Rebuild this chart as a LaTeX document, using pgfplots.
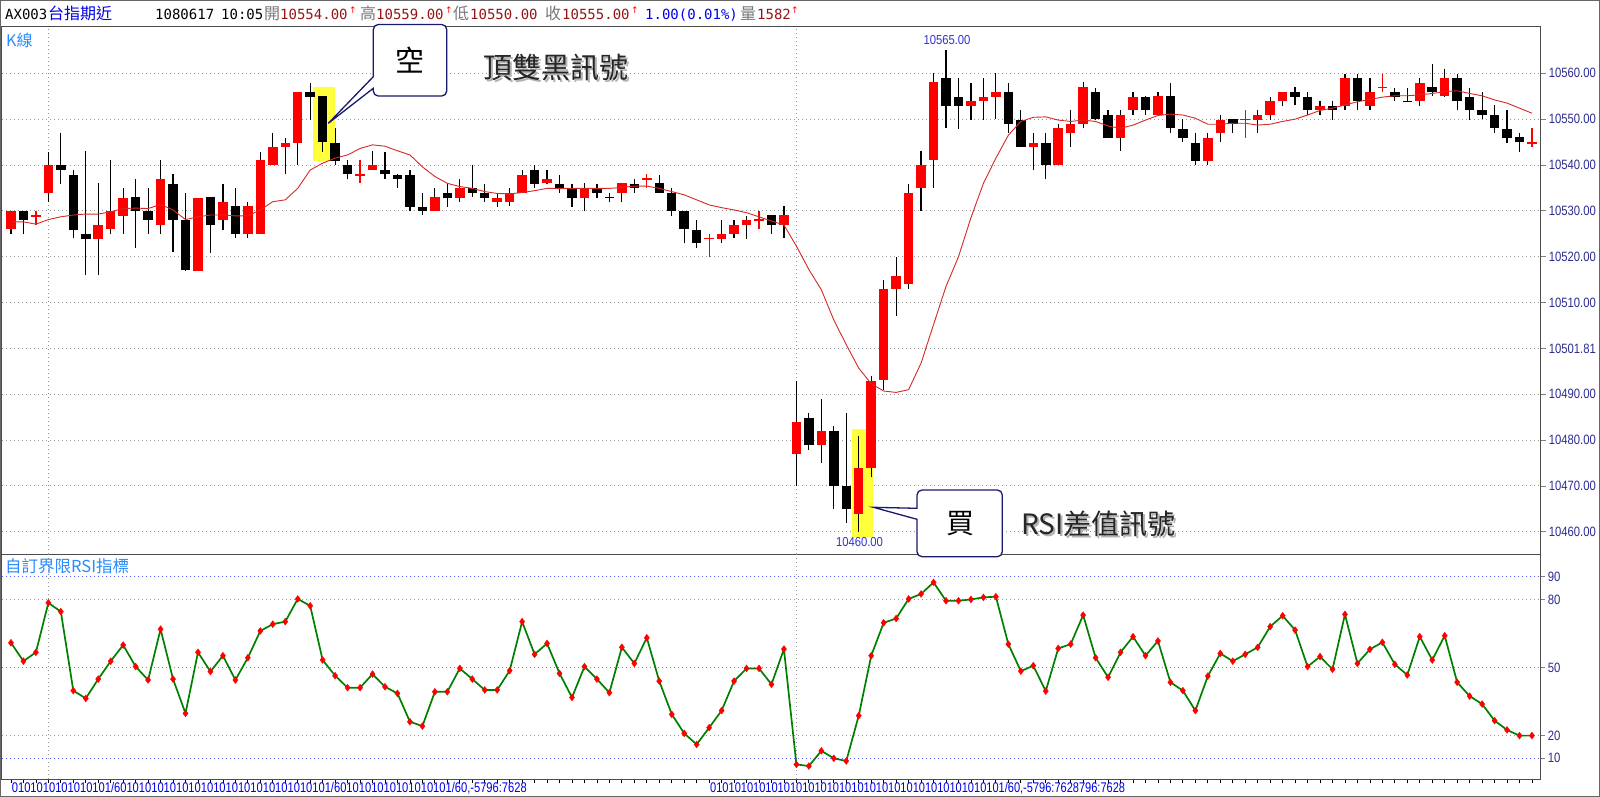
\documentclass[border=0pt]{standalone}
\usepackage{pgfplots}
\pgfplotsset{compat=1.18}
\usepackage{pgfplotstable}
\usepackage{graphicx}
\usepackage{fontspec}
\setmainfont{Liberation Sans}
\newfontfamily\cjk{Noto Sans CJK TC}
\newfontfamily\mono{DejaVu Sans Mono}
\newfontfamily\dvs{DejaVu Sans}
\newfontfamily\lsans{Liberation Sans}

\definecolor{cred}{RGB}{255,0,0}
\definecolor{navy}{RGB}{45,45,145}
\definecolor{lblue}{RGB}{40,140,255}
\definecolor{hdred}{RGB}{150,20,20}
\definecolor{hdgray}{RGB}{120,120,120}
\definecolor{hdblue}{RGB}{0,0,230}
\definecolor{gridgray}{RGB}{150,150,150}
\definecolor{hiyel}{RGB}{255,255,60}
\definecolor{rsigreen}{RGB}{0,128,0}
\definecolor{boxnavy}{RGB}{25,25,110}
\definecolor{lblblue}{RGB}{50,50,210}
\definecolor{malred}{RGB}{215,40,40}
\definecolor{gblue}{RGB}{90,90,255}
\definecolor{gred}{RGB}{255,90,90}

\newcommand{\pl}[1]{\resizebox{47pt}{\height}{#1}}
\newcommand{\rl}[1]{\scalebox{0.84}[1]{#1}}

% red (up) candles
\pgfplotstableread{
i O H L C
0 10526 10530 10525 10530
3 10534 10543 10532 10540
7 10524 10536 10516 10527
8 10526 10541 10525 10530
9 10529 10535 10525 10533
12 10527 10541 10525 10537
15 10517 10533 10517 10533
17 10528 10536 10526 10532
19 10525 10532 10524 10531
20 10525 10543 10525 10541
21 10540 10547 10540 10544
22 10544 10546 10538 10545
23 10545 10556 10540 10556
29 10539 10543 10539 10540
34 10530 10535 10530 10533
36 10533 10537 10532 10535
39 10532 10534 10531 10533
40 10532 10535 10531 10534
41 10534 10539 10534 10538
43 10536 10539 10536 10537
46 10533 10536 10530 10535
49 10534 10536 10532 10536
57 10524 10528 10523 10525
58 10525 10528 10524 10527
59 10527 10529 10524 10528
62 10527 10531 10524 10529
63 10477 10493 10470 10484
65 10479 10489 10475 10482
68 10464 10481 10460 10474
69 10474 10494 10472 10493
70 10493 10515 10491 10513
71 10513 10520 10507 10516
72 10514 10536 10513 10534
73 10535 10543 10530 10540
74 10541 10560 10535 10558
77 10553 10558 10550 10554
78 10554 10559 10550 10555
79 10555 10560 10550 10556
82 10544 10547 10539 10545
84 10540 10549 10540 10548
85 10547 10552 10544 10549
86 10549 10558 10548 10557
89 10546 10552 10543 10551
90 10552 10556 10551 10555
92 10551 10556 10551 10555
96 10541 10547 10540 10546
97 10547 10551 10545 10550
100 10550 10552 10547 10551
101 10551 10555 10550 10554
102 10554 10556 10553 10556
105 10552 10554 10551 10553
107 10553 10560 10552 10559
109 10553 10559 10552 10556
113 10554 10559 10553 10558
115 10555 10561 10555 10559
}\tblR

% red crosses (open = close)
\pgfplotstableread{
i O H L C
2 10529 10530 10527 10529
28 10538 10541 10536 10538
51 10537 10538 10535 10537
56 10524 10525 10520 10524
60 10528 10530 10526 10528
99 10550 10552 10546 10550
110 10557 10560 10556 10557
122 10545 10548 10544 10545
}\tblRD

% black (down) candles
\pgfplotstableread{
i O H L C
1 10530 10530 10525 10528
4 10540 10547 10536 10539
5 10538 10539 10524 10526
6 10525 10543 10516 10524
10 10533 10537 10522 10530
11 10530 10535 10525 10528
13 10536 10538 10521 10528
14 10528 10534 10517 10517
16 10533 10533 10521 10527
18 10531 10535 10524 10525
24 10556 10558 10550 10555
25 10555 10555 10543 10545
26 10545 10548 10540 10541
27 10540 10541 10537 10538
30 10539 10543 10537 10538
31 10538 10538 10535 10537
32 10538 10539 10530 10531
33 10531 10534 10529 10530
35 10534 10536 10531 10533
37 10535 10540 10533 10534
38 10534 10536 10532 10533
42 10539 10540 10535 10536
44 10536 10538 10534 10535
45 10535 10536 10531 10533
47 10535 10536 10533 10534
48 10533 10534 10532 10533
50 10536 10537 10534 10535
52 10536 10538 10534 10534
53 10534 10535 10529 10530
54 10530 10530 10523 10526
55 10526 10528 10522 10523
61 10529 10529 10525 10527
64 10485 10486 10478 10479
66 10482 10483 10465 10470
67 10470 10486 10462 10465
75 10559 10565 10548 10553
76 10555 10559 10548 10553
80 10556 10558 10547 10549
81 10550 10552 10544 10544
83 10545 10547 10537 10540
87 10556 10557 10550 10550
88 10551 10552 10546 10546
91 10555 10555 10551 10552
93 10555 10558 10547 10548
94 10548 10550 10545 10546
95 10545 10547 10540 10541
98 10550 10550 10547 10549
103 10556 10557 10553 10555
104 10555 10556 10551 10552
106 10553 10554 10550 10552
108 10559 10560 10552 10554
111 10556 10557 10554 10555
112 10554 10557 10554 10554
114 10557 10562 10555 10556
116 10559 10560 10552 10554
117 10555 10557 10550 10552
118 10552 10556 10550 10551
119 10551 10553 10547 10548
120 10548 10552 10545 10546
121 10546 10547 10543 10545
}\tblB

% moving average
\pgfplotstableread{
i ma
0 10527.6
1 10527.6
2 10527.1
3 10528.1
4 10528.7
5 10529.1
6 10529.3
7 10529.3
8 10529.8
9 10530.5
10 10530.6
11 10530.5
12 10531.4
13 10530.2
14 10528.1
15 10528.7
16 10529.1
17 10529.1
18 10528.9
19 10528.9
20 10530.2
21 10532.0
22 10532.4
23 10534.9
24 10538.9
25 10540.4
26 10541.5
27 10542.2
28 10543.6
29 10544.4
30 10544.1
31 10543.1
32 10542.2
33 10539.6
34 10537.5
35 10536.0
36 10535.3
37 10534.9
38 10534.2
39 10533.8
40 10533.7
41 10534.0
42 10534.4
43 10534.9
44 10534.9
45 10534.9
46 10534.9
47 10534.9
48 10534.9
49 10535.1
50 10535.4
51 10535.4
52 10534.9
53 10534.2
54 10533.5
55 10532.4
56 10531.3
57 10530.7
58 10530.2
59 10529.6
60 10528.7
61 10527.8
62 10526.9
63 10522.3
64 10517.2
65 10512.8
66 10506.2
67 10500.8
68 10495.7
69 10492.3
70 10490.7
71 10490.4
72 10491.0
73 10496.8
74 10505.2
75 10513.5
76 10520.0
77 10528.5
78 10536.0
79 10541.5
80 10546.5
81 10549.5
82 10550.4
83 10550.5
84 10549.8
85 10549.5
86 10549.8
87 10549.5
88 10548.5
89 10548.0
90 10548.7
91 10549.8
92 10550.8
93 10551.1
94 10550.9
95 10550.2
96 10548.9
97 10548.9
98 10549.1
99 10549.1
100 10548.7
101 10548.9
102 10549.5
103 10550.0
104 10550.9
105 10551.9
106 10552.4
107 10553.1
108 10553.8
109 10554.3
110 10554.8
111 10555.1
112 10555.1
113 10555.3
114 10555.6
115 10556.0
116 10556.2
117 10555.6
118 10555.1
119 10554.2
120 10553.5
121 10552.4
122 10551.3
}\tblMA

% RSI
\pgfplotstableread{
i r
0 60.9
1 52.8
2 56.7
3 78.5
4 74.6
5 39.8
6 36.4
7 44.9
8 52.8
9 59.9
10 50.4
11 44.5
12 66.9
13 44.9
14 29.8
15 56.7
16 48.2
17 55.2
18 44.5
19 54.3
20 66.1
21 69.1
22 70.2
23 80.2
24 77.2
25 53.3
26 46.4
27 41.1
28 41.1
29 47.1
30 41.5
31 38.6
32 26.1
33 24.2
34 39.3
35 39.3
36 49.6
37 44.9
38 40.1
39 40.1
40 48.6
41 70.2
42 55.8
43 60.6
44 47.4
45 36.8
46 50.4
47 44.9
48 38.9
49 58.9
50 51.8
51 63.1
52 44.0
53 29.4
54 21.0
55 16.1
56 23.5
57 31.0
58 44.0
59 49.6
60 49.6
61 42.6
62 58.1
63 7.3
64 6.6
65 13.3
66 10.0
67 8.8
68 28.8
69 55.2
70 69.7
71 71.6
72 80.2
73 82.4
74 87.5
75 79.4
76 79.4
77 80.0
78 80.9
79 81.2
80 60.3
81 48.4
82 50.8
83 39.6
84 58.4
85 60.3
86 73.1
87 54.3
88 45.7
89 56.7
90 63.6
91 55.2
92 61.7
93 43.5
94 39.8
95 31.0
96 46.2
97 56.2
98 52.8
99 55.8
100 58.9
101 68.0
102 72.8
103 66.5
104 50.4
105 54.8
106 49.2
107 73.4
108 51.8
109 58.0
110 61.1
111 51.4
112 46.7
113 63.6
114 53.3
115 64.0
116 43.5
117 37.4
118 33.9
119 26.6
120 22.5
121 20.0
122 20.0
}\tblRSI

\pgfplotsset{
  wick/.style={draw=none, mark=none, forget plot,
    error bars/.cd, y dir=both, y explicit, error mark=none,
    error bar style={draw=#1, line width=1.2pt}},
  body/.style={draw=none, mark=none, forget plot,
    error bars/.cd, y dir=both, y explicit, error mark=none,
    error bar style={draw=#1, line width=9.5pt}},
}

\begin{document}
\begin{tikzpicture}
\useasboundingbox (0pt,0pt) rectangle (1600pt,-797pt);
\fill[white] (0pt,0pt) rectangle (1600pt,-797pt);

% ---------------- price panel ----------------
\begin{axis}[
  at={(2pt,-26.5pt)}, anchor=north west,
  scale only axis, width=1538.7pt, height=527.8pt,
  xmin=-0.72, xmax=122.7, ymin=10455.09, ymax=10570.21,
  scaled y ticks=false, scaled x ticks=false,
  axis line style={draw=black!70, line width=1pt},
  xtick={3,63}, xticklabels={}, xmajorgrids,
  ytick={10460,10470,10480,10490,10500,10510,10520,10530,10540,10550,10560},
  ymajorgrids,
  ytick pos=right, tick align=outside, major tick length=5pt,
  xtick style={draw=none},
  ytick style={draw=gray, line width=0.8pt},
  grid style={draw=gridgray, line width=1pt, dash pattern=on 1pt off 3pt},
  yticklabels={\pl{10460.00},\pl{10470.00},\pl{10480.00},\pl{10490.00},\pl{10501.81},\pl{10510.00},\pl{10520.00},\pl{10530.00},\pl{10540.00},\pl{10550.00},\pl{10560.00}},
  yticklabel style={font=\lsans\fontsize{13.5}{13.5}\selectfont, text=navy, anchor=west, inner sep=0pt, xshift=3pt},
]
\fill[hiyel] (axis cs:24.24,10540.9) rectangle (axis cs:25.98,10557.1);
\fill[hiyel] (axis cs:67.42,10458.9) rectangle (axis cs:69.15,10482.4);

% wicks
\addplot[wick=black] table[x=i, y expr={(\thisrow{H}+\thisrow{L})/2}, y error expr={(\thisrow{H}-\thisrow{L})/2}] {\tblR};
\addplot[wick=black] table[x=i, y expr={(\thisrow{H}+\thisrow{L})/2}, y error expr={(\thisrow{H}-\thisrow{L})/2}] {\tblB};
\addplot[wick=cred] table[x=i, y expr={(\thisrow{H}+\thisrow{L})/2}, y error expr={(\thisrow{H}-\thisrow{L})/2}] {\tblRD};
% bodies
\addplot[body=cred] table[x=i, y expr={(\thisrow{O}+\thisrow{C})/2}, y error expr={max(abs(\thisrow{C}-\thisrow{O})/2,0.12)}] {\tblR};
\addplot[body=cred] table[x=i, y expr={(\thisrow{O}+\thisrow{C})/2}, y error expr={max(abs(\thisrow{C}-\thisrow{O})/2,0.12)}] {\tblRD};
\addplot[body=black] table[x=i, y expr={(\thisrow{O}+\thisrow{C})/2}, y error expr={max(abs(\thisrow{C}-\thisrow{O})/2,0.12)}] {\tblB};
% moving average
\addplot[malred, line width=0.9pt, mark=none] table[x=i, y=ma] {\tblMA};
\end{axis}

% ---------------- RSI panel ----------------
\begin{axis}[
  at={(2pt,-554.3pt)}, anchor=north west,
  scale only axis, width=1538.7pt, height=225pt,
  xmin=-0.72, xmax=122.7, ymin=0.75, ymax=99.87,
  scaled y ticks=false, scaled x ticks=false,
  axis line style={draw=black!70, line width=1pt},
  xtick={0,...,122}, xticklabels={}, xtick pos=bottom,
  ytick={10,20,50,80,90}, ytick pos=right, tick align=outside, major tick length=4pt,
  xtick style={draw=black, line width=0.8pt},
  ytick style={draw=gray, line width=0.8pt},
  yticklabels={\rl{10},\rl{20},\rl{50},\rl{80},\rl{90}},
  yticklabel style={font=\lsans\fontsize{13.5}{13.5}\selectfont, text=navy, anchor=west, inner sep=0pt, xshift=3pt},
]
\draw[gridgray, line width=1pt, dash pattern=on 1pt off 3pt] (axis cs:3,0.75) -- (axis cs:3,99.87);
\draw[gridgray, line width=1pt, dash pattern=on 1pt off 3pt] (axis cs:63,0.75) -- (axis cs:63,99.87);
\draw[gblue, line width=1pt, dash pattern=on 1pt off 3pt] (axis cs:-0.72,90) -- (axis cs:122.7,90);
\draw[gridgray, line width=1pt, dash pattern=on 1pt off 3pt] (axis cs:-0.72,80) -- (axis cs:122.7,80);
\draw[gred, line width=1pt, dash pattern=on 1pt off 3pt] (axis cs:-0.72,50) -- (axis cs:122.7,50);
\draw[gridgray, line width=1pt, dash pattern=on 1pt off 3pt] (axis cs:-0.72,20) -- (axis cs:122.7,20);
\draw[gblue, line width=1pt, dash pattern=on 1pt off 3pt] (axis cs:-0.72,10) -- (axis cs:122.7,10);
\addplot[rsigreen, line width=1.7pt, mark=diamond*, mark size=3.5pt,
  mark options={draw=cred, fill=cred, line width=0.3pt}] table[x=i, y=r] {\tblRSI};
\end{axis}

% ---------------- annotations ----------------
\begin{scope}[x=1pt, y=1pt]
\draw[black!60, line width=1pt] (0.5,-0.5) rectangle (1599.5,-796.5);

% header
\def\hy{-19.5}
\node[anchor=base west, inner sep=0pt, text=black, font=\mono\fontsize{14}{14}\selectfont] at (5,\hy) {AX003};
\node[anchor=base west, inner sep=0pt, text=hdblue, font=\cjk\fontsize{16}{16}\selectfont] at (48,\hy) {台指期近};
\node[anchor=base west, inner sep=0pt, text=black, font=\mono\fontsize{14}{14}\selectfont] at (155,\hy) {1080617};
\node[anchor=base west, inner sep=0pt, text=black, font=\mono\fontsize{14}{14}\selectfont] at (221,\hy) {10:05};
\node[anchor=base west, inner sep=0pt, text=hdgray, font=\cjk\fontsize{16}{16}\selectfont] at (264,\hy) {開};
\node[anchor=base west, inner sep=0pt, text=hdred, font=\mono\fontsize{14}{14}\selectfont] at (280,\hy) {10554.00};
\node[anchor=base west, inner sep=0pt, text=cred, font=\dvs\fontsize{9}{9}\selectfont] at (349,-14) {↑};
\node[anchor=base west, inner sep=0pt, text=hdgray, font=\cjk\fontsize{16}{16}\selectfont] at (360,\hy) {高};
\node[anchor=base west, inner sep=0pt, text=hdred, font=\mono\fontsize{14}{14}\selectfont] at (376,\hy) {10559.00};
\node[anchor=base west, inner sep=0pt, text=cred, font=\dvs\fontsize{9}{9}\selectfont] at (445,-14) {↑};
\node[anchor=base west, inner sep=0pt, text=hdgray, font=\cjk\fontsize{16}{16}\selectfont] at (453,\hy) {低};
\node[anchor=base west, inner sep=0pt, text=hdred, font=\mono\fontsize{14}{14}\selectfont] at (470,\hy) {10550.00};
\node[anchor=base west, inner sep=0pt, text=hdgray, font=\cjk\fontsize{16}{16}\selectfont] at (545,\hy) {收};
\node[anchor=base west, inner sep=0pt, text=hdred, font=\mono\fontsize{14}{14}\selectfont] at (562,\hy) {10555.00};
\node[anchor=base west, inner sep=0pt, text=cred, font=\dvs\fontsize{9}{9}\selectfont] at (631,-14) {↑};
\node[anchor=base west, inner sep=0pt, text=hdblue, font=\mono\fontsize{14}{14}\selectfont] at (645,\hy) {1.00(0.01\%)};
\node[anchor=base west, inner sep=0pt, text=hdgray, font=\cjk\fontsize{16}{16}\selectfont] at (740,\hy) {量};
\node[anchor=base west, inner sep=0pt, text=hdred, font=\mono\fontsize{14}{14}\selectfont] at (757,\hy) {1582};
\node[anchor=base west, inner sep=0pt, text=cred, font=\dvs\fontsize{9}{9}\selectfont] at (791,-14) {↑};

% panel titles
\node[anchor=west, inner sep=0pt, text=lblue, font=\cjk\fontsize{16}{16}\selectfont] at (6,-40) {K線};
\node[anchor=west, inner sep=0pt, text=lblue, font=\cjk\fontsize{16.5}{16.5}\selectfont] at (5,-566.5) {自訂界限RSI指標};

% extreme labels
\node[inner sep=0pt, text=lblblue, font=\lsans\fontsize{13}{13}\selectfont] at (947,-40) {\resizebox{47pt}{\height}{10565.00}};
\node[inner sep=0pt, text=lblblue, font=\lsans\fontsize{13}{13}\selectfont] at (859.5,-542) {\resizebox{47pt}{\height}{10460.00}};

% bottom axis strings
\node[anchor=west, inner sep=0pt, text=hdblue, font=\lsans\fontsize{14}{14}\selectfont] at (11.7,-788) {\resizebox{515pt}{\height}{0101010101010101/60101010101010101010101010101010101/6010101010101010101/60,-5796:7628}};
\node[anchor=west, inner sep=0pt, text=hdblue, font=\lsans\fontsize{14}{14}\selectfont] at (710,-788) {\resizebox{415pt}{\height}{010101010101010101010101010101010101010101010101/60,-5796:7628796:7628}};

% callout 1
\draw[boxnavy, line width=1.3pt, fill=white, rounded corners=5pt]
  (373.3,-24.5) -- (446.7,-24.5) -- (446.7,-96) -- (373.3,-96) [sharp corners] -- (373.3,-88.3)
  -- (328.3,-123.3) -- (373.3,-76.7) [rounded corners=5pt] -- cycle;
\node[text=black, font=\cjk\fontsize{29}{29}\selectfont] at (409.5,-60) {空};
\node[text=black!30, font=\cjk\fontsize{29}{29}\selectfont] at (557.5,-69.5) {頂雙黑訊號};
\node[text=black!85, font=\cjk\fontsize{29}{29}\selectfont] at (555.5,-67.5) {頂雙黑訊號};

% callout 2
\draw[boxnavy, line width=1.3pt, fill=white, rounded corners=5pt]
  (917,-490) -- (1002.3,-490) -- (1002.3,-556.7) -- (917,-556.7) [sharp corners] -- (917,-519.3)
  -- (873.3,-507.3) -- (917,-508.3) [rounded corners=5pt] -- cycle;
\node[text=black, font=\cjk\fontsize{28}{28}\selectfont] at (960,-524) {買};
\node[text=black!30, font=\cjk\fontsize{28}{28}\selectfont] at (1100.5,-526) {RSI差值訊號};
\node[text=black!85, font=\cjk\fontsize{28}{28}\selectfont] at (1098.5,-524) {RSI差值訊號};
\end{scope}
\end{tikzpicture}
\end{document}
